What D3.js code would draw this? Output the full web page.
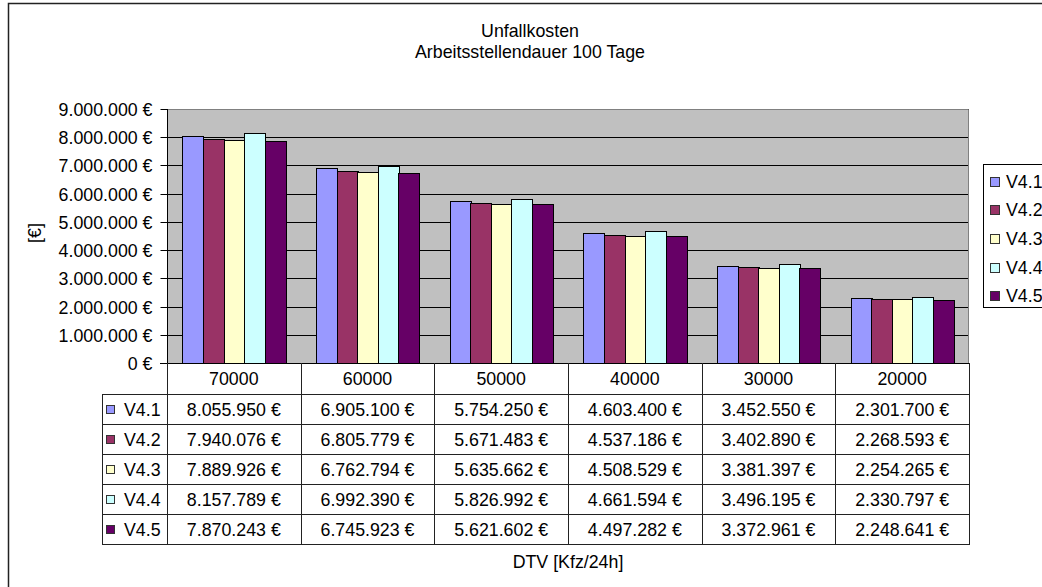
<!DOCTYPE html>
<html><head><meta charset="utf-8">
<script src="https://cdn.jsdelivr.net/npm/d3@7"></script>
<style>
html,body{margin:0;padding:0;background:#fff;}
svg{display:block;font-family:"Liberation Sans",Arial,sans-serif;}
</style></head>
<body>
<svg id="chart" width="1042" height="587"></svg>
<script>
const titleLines = ["Unfallkosten", "Arbeitsstellendauer 100 Tage"];
const yAxisTitle = "[€]";
const xAxisTitle = "DTV [Kfz/24h]";
const categories = ["70000", "60000", "50000", "40000", "30000", "20000"];
const seriesNames = ["V4.1", "V4.2", "V4.3", "V4.4", "V4.5"];
const seriesColors = ["#9999FF", "#993366", "#FFFFCC", "#CCFFFF", "#660066"];
const v41 = [8055950, 6905100, 5754250, 4603400, 3452550, 2301700];
const v42 = [7940076, 6805779, 5671483, 4537186, 3402890, 2268593];
const v43 = [7889926, 6762794, 5635662, 4508529, 3381397, 2254265];
const v44 = [8157789, 6992390, 5826992, 4661594, 3496195, 2330797];
const v45 = [7870243, 6745923, 5621602, 4497282, 3372961, 2248641];
const yTicks = [0, 1000000, 2000000, 3000000, 4000000, 5000000, 6000000, 7000000, 8000000, 9000000];

const seriesValues = [v41, v42, v43, v44, v45];
const series = seriesNames.map((n, i) => ({name: n, color: seriesColors[i], values: seriesValues[i]}));

const loc = d3.formatLocale({decimal: ",", thousands: ".", grouping: [3], currency: ["", " €"]});
const fmt = loc.format("$,.0f");

const svg = d3.select("#chart");
const FS = 17.8;
const plot = {left: 167, right: 969, top: 109, bottom: 363};
const tableLeft = 102;
const rowTop = 394, rowH = 30;

// chart frame
svg.append("rect").attr("x", 8.5).attr("y", 3.5).attr("width", 1100).attr("height", 700)
  .attr("fill", "#fff").attr("stroke", "#222").attr("stroke-width", 1.5);

// title
const title = svg.append("text").attr("text-anchor", "middle").attr("font-size", FS).attr("fill", "#000");
titleLines.forEach((t, i) => title.append("tspan").attr("x", 530).attr("y", 37 + i * 20.5).text(t));

const x = d3.scaleBand().domain(categories).range([plot.left, plot.right]).paddingInner(0).paddingOuter(0);
const xs = d3.scaleBand().domain(seriesNames).range([0, x.bandwidth()]).paddingInner(0).paddingOuter(0.75);
const y = d3.scaleLinear().domain([0, 9000000]).range([plot.bottom, plot.top]);

// plot background
svg.append("rect").attr("x", plot.left).attr("y", plot.top)
  .attr("width", plot.right - plot.left).attr("height", plot.bottom - plot.top)
  .attr("fill", "#C0C0C0");

// gridlines
svg.append("g").selectAll("line").data(yTicks.filter(d => d > 0)).join("line")
  .attr("x1", plot.left).attr("x2", plot.right)
  .attr("y1", d => Math.round(y(d)) + 0.5).attr("y2", d => Math.round(y(d)) + 0.5)
  .attr("stroke", "#000").attr("stroke-width", 1);

// plot border (top/right)
svg.append("path")
  .attr("d", `M${plot.left},${plot.top + 0.5}H${plot.right - 0.5}V${plot.bottom}`)
  .attr("fill", "none").attr("stroke", "#808080").attr("stroke-width", 1);

// bars
const gBars = svg.append("g");
series.forEach(s => {
  gBars.append("g").selectAll("rect").data(categories.map((c, i) => ({c, v: s.values[i]}))).join("rect")
    .attr("x", d => Math.round(x(d.c) + xs(s.name)) + 0.5)
    .attr("y", d => Math.round(y(d.v)) + 0.5)
    .attr("width", Math.round(xs.bandwidth()))
    .attr("height", d => Math.round(y(0)) - Math.round(y(d.v)))
    .attr("fill", s.color).attr("stroke", "#000").attr("stroke-width", 1);
});

// y axis
const yAxis = d3.axisLeft(y).tickValues(yTicks).tickFormat(fmt).tickSize(7).tickPadding(8);
const gy = svg.append("g").attr("transform", `translate(${plot.left + 0.5},0)`).call(yAxis);
gy.select(".domain").attr("d", `M-0,${plot.top}V${plot.bottom}`).attr("stroke", "#000");
gy.selectAll(".tick line").attr("stroke", "#000");
gy.selectAll(".tick").attr("transform", d => `translate(0,${Math.round(y(d)) + 0.5})`);
gy.selectAll(".tick text").attr("font-size", FS).attr("font-family", "Liberation Sans, Arial, sans-serif")
  .attr("fill", "#000").attr("dy", "0.36em");

// y axis title
svg.append("text").attr("transform", "translate(41,233) rotate(-90)")
  .attr("text-anchor", "middle").attr("font-size", FS).attr("fill", "#000").text(yAxisTitle);

// data table
const gT = svg.append("g");
const lineColor = "#222";
const hLines = [plot.bottom];
for (let r = 0; r <= series.length; r++) hLines.push(rowTop + r * rowH);
hLines.forEach((yy, i) => {
  gT.append("line").attr("x1", i === 0 ? plot.left - 7 : tableLeft).attr("x2", plot.right)
    .attr("y1", yy + 0.5).attr("y2", yy + 0.5).attr("stroke", i === 0 ? "#000" : lineColor);
});
gT.append("line").attr("x1", tableLeft + 0.5).attr("x2", tableLeft + 0.5)
  .attr("y1", rowTop).attr("y2", rowTop + series.length * rowH + 1).attr("stroke", lineColor);
const bounds = categories.map(c => x(c)).concat([x.range()[1]]);
bounds.forEach(bx => {
  const xx = Math.round(bx) + 0.5;
  gT.append("line").attr("x1", xx).attr("x2", xx)
    .attr("y1", plot.bottom).attr("y2", rowTop + series.length * rowH + 1).attr("stroke", lineColor);
});
gT.append("g").selectAll("text").data(categories).join("text")
  .attr("x", d => x(d) + x.bandwidth() / 2).attr("y", (plot.bottom + rowTop) / 2 + 6)
  .attr("text-anchor", "middle").attr("font-size", FS).attr("fill", "#000").text(d => d);
series.forEach((s, r) => {
  const cy = rowTop + r * rowH + rowH / 2;
  gT.append("rect").attr("x", 106.5).attr("y", Math.round(cy - 4) + 0.5).attr("width", 8).attr("height", 8)
    .attr("fill", s.color).attr("stroke", "#333");
  gT.append("text").attr("x", 124).attr("y", cy + 7).attr("font-size", FS).attr("fill", "#000").text(s.name);
  gT.append("g").selectAll("text").data(categories.map((c, i) => ({c, v: s.values[i]}))).join("text")
    .attr("x", d => x(d.c) + x.bandwidth() / 2).attr("y", cy + 7)
    .attr("text-anchor", "middle").attr("font-size", FS).attr("fill", "#000").text(d => fmt(d.v));
});

// x axis title
svg.append("text").attr("x", (plot.left + plot.right) / 2).attr("y", 568)
  .attr("text-anchor", "middle").attr("font-size", FS).attr("fill", "#000").text(xAxisTitle);

// legend
const lg = svg.append("g");
lg.append("rect").attr("x", 983.5).attr("y", 164.5).attr("width", 120).attr("height", 143)
  .attr("fill", "#fff").attr("stroke", "#000");
series.forEach((s, i) => {
  const cy = 181 + i * 28.7;
  lg.append("rect").attr("x", 990.5).attr("y", Math.round(cy - 4.5) + 0.5).attr("width", 9).attr("height", 9)
    .attr("fill", s.color).attr("stroke", "#333");
  lg.append("text").attr("x", 1006).attr("y", cy + 6.5).attr("font-size", FS).attr("fill", "#000").text(s.name);
});
</script>
</body></html>
